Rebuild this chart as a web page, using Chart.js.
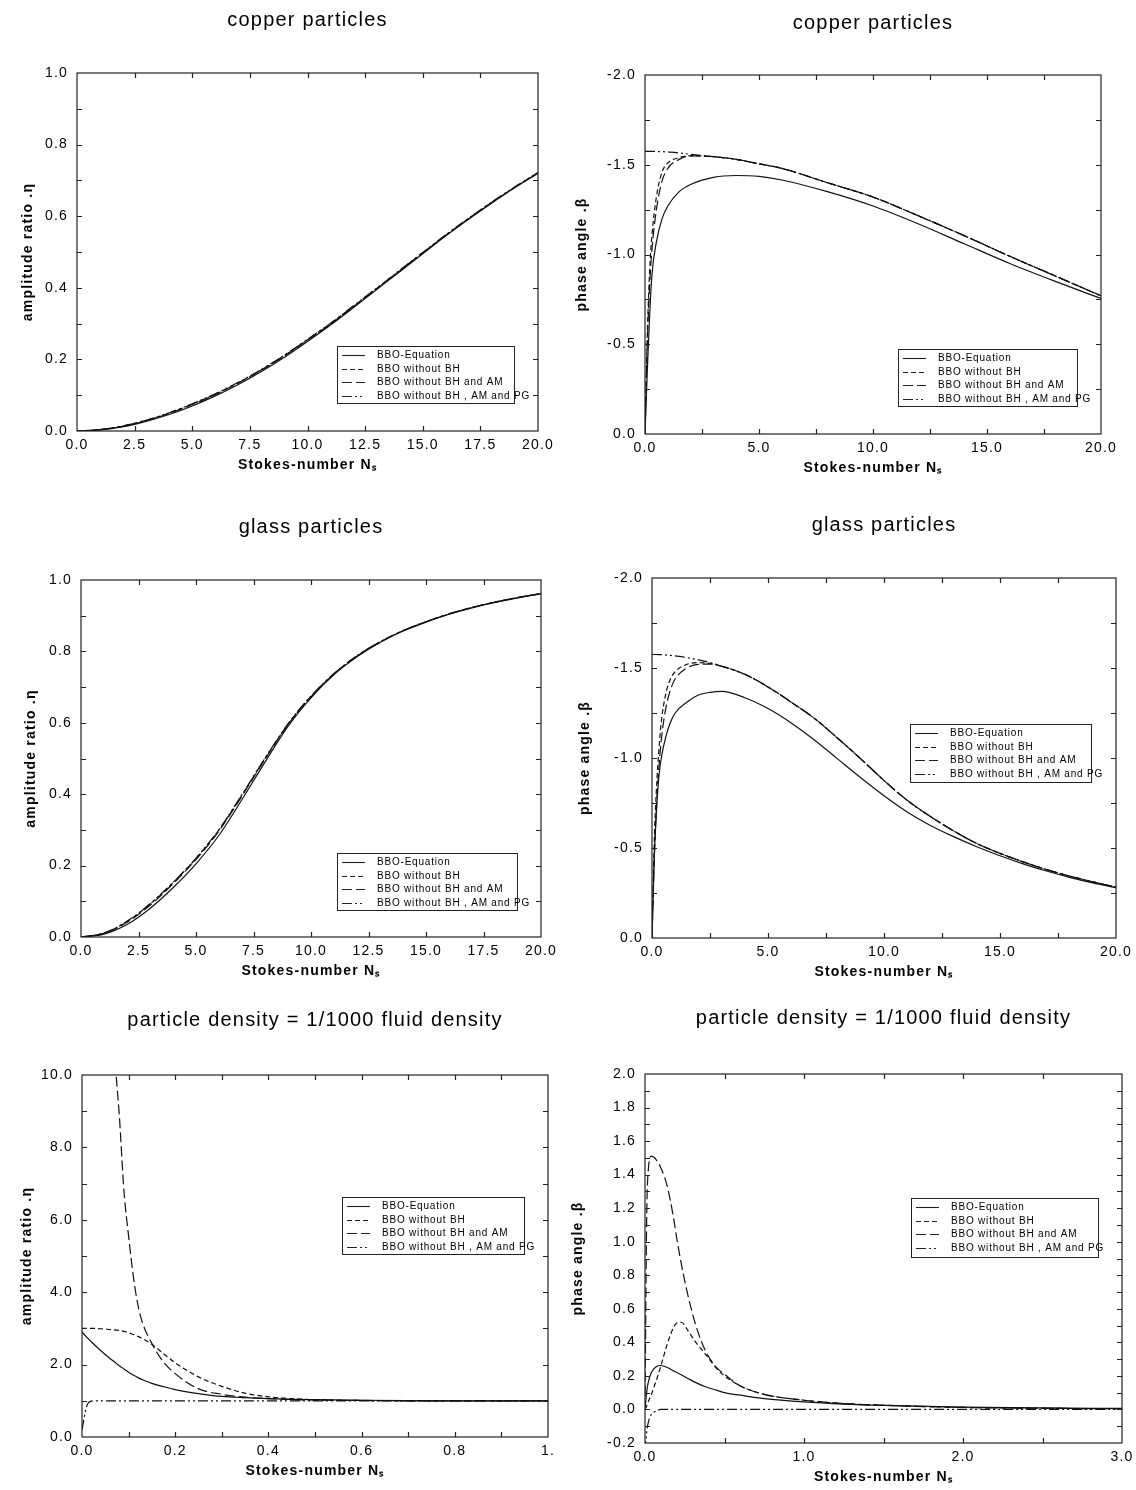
<!DOCTYPE html>
<html>
<head>
<meta charset="utf-8">
<title>BBO response curves</title>
<script src="https://cdn.jsdelivr.net/npm/chart.js@4.4.1/dist/chart.umd.min.js"></script>
<style>
  body { margin: 0; background: #fff; width: 1136px; height: 1490px; position: relative; overflow: hidden; }
  canvas { position: absolute; }
</style>
</head>
<body>
<canvas id="p1"></canvas>
<canvas id="p2"></canvas>
<canvas id="p3"></canvas>
<canvas id="p4"></canvas>
<canvas id="p5"></canvas>
<canvas id="p6"></canvas>
<script>
// legend labels (same for all six plots)
const seriesLabels = ['BBO-Equation', 'BBO without BH', 'BBO without BH and AM', 'BBO without BH , AM and PG'];

// copper particles - amplitude ratio
const cuAmpX    = [0, 1, 2, 3, 4, 5, 6, 7, 8, 9, 10, 11, 12, 13, 14, 15, 16, 17, 18, 19, 20];
const cuAmpBBO  = [0, 0.003, 0.012, 0.027, 0.046, 0.070, 0.098, 0.130, 0.166, 0.206, 0.250, 0.296, 0.345, 0.395, 0.445, 0.495, 0.545, 0.592, 0.637, 0.680, 0.720];
const cuAmpNoBH = [0, 0.004, 0.014, 0.030, 0.050, 0.075, 0.103, 0.135, 0.171, 0.211, 0.255, 0.300, 0.349, 0.398, 0.448, 0.498, 0.547, 0.594, 0.639, 0.681, 0.721];
const cuAmpNoAM = [0, 0.004, 0.013, 0.029, 0.049, 0.074, 0.102, 0.134, 0.170, 0.210, 0.254, 0.299, 0.348, 0.397, 0.447, 0.497, 0.546, 0.593, 0.638, 0.681, 0.721];
const cuAmpNoPG = [0, 0.004, 0.014, 0.030, 0.051, 0.076, 0.104, 0.136, 0.172, 0.212, 0.256, 0.301, 0.350, 0.399, 0.449, 0.499, 0.548, 0.595, 0.640, 0.682, 0.722];

// copper particles - phase angle
const cuPhX    = [0, 0.1, 0.2, 0.3, 0.5, 0.75, 1, 1.5, 2, 3, 4, 5, 6, 8, 10, 12, 14, 16, 18, 20];
const cuPhBBO  = [0, -0.35, -0.65, -0.88, -1.07, -1.20, -1.27, -1.35, -1.39, -1.43, -1.44, -1.435, -1.415, -1.35, -1.27, -1.17, -1.06, -0.95, -0.85, -0.755];
const cuPhNoBH = [0, -0.55, -0.90, -1.10, -1.32, -1.46, -1.51, -1.54, -1.55, -1.545, -1.53, -1.505, -1.48, -1.40, -1.32, -1.215, -1.105, -0.99, -0.88, -0.77];
const cuPhNoAM = [0, -0.50, -0.82, -1.02, -1.25, -1.41, -1.48, -1.53, -1.55, -1.545, -1.53, -1.505, -1.48, -1.40, -1.32, -1.215, -1.105, -0.99, -0.88, -0.77];
const cuPhNoPG = [-1.575, -1.575, -1.575, -1.575, -1.574, -1.573, -1.571, -1.566, -1.558, -1.545, -1.53, -1.505, -1.48, -1.40, -1.32, -1.215, -1.105, -0.99, -0.88, -0.77];

// glass particles - amplitude ratio
const glAmpX    = [0, 1, 2, 3, 4, 5, 6, 7, 8, 9, 10, 11, 12, 13, 14, 15, 16, 17, 18, 19, 20];
const glAmpBBO  = [0, 0.008, 0.035, 0.080, 0.138, 0.205, 0.285, 0.385, 0.490, 0.590, 0.670, 0.735, 0.785, 0.825, 0.857, 0.882, 0.904, 0.922, 0.937, 0.950, 0.961];
const glAmpNoBH = [0, 0.011, 0.043, 0.092, 0.152, 0.220, 0.300, 0.398, 0.500, 0.596, 0.674, 0.737, 0.787, 0.826, 0.858, 0.883, 0.905, 0.923, 0.938, 0.951, 0.962];
const glAmpNoAM = [0, 0.010, 0.041, 0.089, 0.149, 0.217, 0.297, 0.395, 0.498, 0.595, 0.673, 0.737, 0.787, 0.826, 0.858, 0.883, 0.905, 0.923, 0.938, 0.951, 0.962];
const glAmpNoPG = [0, 0.011, 0.044, 0.093, 0.153, 0.221, 0.301, 0.399, 0.501, 0.597, 0.675, 0.738, 0.788, 0.827, 0.858, 0.883, 0.905, 0.923, 0.938, 0.951, 0.962];

// glass particles - phase angle
const glPhX    = [0, 0.1, 0.2, 0.3, 0.4, 0.6, 0.8, 1, 1.5, 2, 2.5, 3, 4, 5, 6, 7, 8, 9, 10, 11, 12, 13, 14, 15, 16, 17, 18, 19, 20];
const glPhBBO  = [0, -0.45, -0.72, -0.90, -1.00, -1.12, -1.20, -1.25, -1.31, -1.35, -1.365, -1.37, -1.335, -1.275, -1.195, -1.10, -0.995, -0.89, -0.79, -0.70, -0.625, -0.563, -0.507, -0.457, -0.412, -0.372, -0.337, -0.306, -0.28];
const glPhNoBH = [0, -0.55, -0.85, -1.05, -1.20, -1.36, -1.44, -1.48, -1.52, -1.53, -1.525, -1.51, -1.465, -1.395, -1.31, -1.22, -1.11, -0.995, -0.875, -0.765, -0.675, -0.595, -0.525, -0.47, -0.423, -0.38, -0.344, -0.312, -0.283];
const glPhNoAM = [0, -0.45, -0.75, -0.95, -1.10, -1.28, -1.38, -1.44, -1.50, -1.52, -1.522, -1.51, -1.465, -1.395, -1.31, -1.22, -1.11, -0.995, -0.875, -0.765, -0.675, -0.595, -0.525, -0.47, -0.423, -0.38, -0.344, -0.312, -0.283];
const glPhNoPG = [-1.575, -1.575, -1.575, -1.574, -1.574, -1.572, -1.57, -1.567, -1.558, -1.545, -1.53, -1.51, -1.465, -1.395, -1.31, -1.22, -1.11, -0.995, -0.875, -0.765, -0.675, -0.595, -0.525, -0.47, -0.423, -0.38, -0.344, -0.312, -0.283];

// particle density = 1/1000 fluid density - amplitude ratio
const lowAmpX    = [0, 0.01, 0.02, 0.04, 0.06, 0.065, 0.075, 0.08, 0.09, 0.1, 0.11, 0.12, 0.13, 0.15, 0.175, 0.2, 0.25, 0.3, 0.35, 0.4, 0.45, 0.5, 0.6, 0.7, 0.8, 0.9, 1.0];
const lowAmpBBO  = [2.9, 2.76, 2.63, 2.39, 2.17, 2.12, 2.02, 1.97, 1.88, 1.79, 1.71, 1.64, 1.58, 1.48, 1.39, 1.31, 1.2, 1.12, 1.085, 1.06, 1.04, 1.03, 1.015, 1.005, 1.0, 1.0, 1.0];
const lowAmpNoBH = [3.0, 3.0, 3.0, 2.99, 2.97, 2.965, 2.95, 2.94, 2.92, 2.88, 2.83, 2.78, 2.72, 2.56, 2.3, 2.05, 1.66, 1.4, 1.21, 1.11, 1.06, 1.03, 1.01, 1.0, 1.0, 1.0, 1.0];
const lowAmpNoAM = [null, null, null, null, null, 11.5, 9.7, 8.9, 6.8, 5.55, 4.45, 3.65, 3.15, 2.58, 2.07, 1.75, 1.33, 1.18, 1.1, 1.06, 1.035, 1.02, 1.01, 1.0, 1.0, 1.0, 1.0];
const lowAmpNoPG = [0.2, 0.85, 0.99, 1.0, 1.0, 1.0, 1.0, 1.0, 1.0, 1.0, 1.0, 1.0, 1.0, 1.0, 1.0, 1.0, 1.0, 1.0, 1.0, 1.0, 1.0, 1.0, 1.0, 1.0, 1.0, 1.0, 1.0];

// particle density = 1/1000 fluid density - phase angle
const lowPhX    = [0, 0.01, 0.02, 0.04, 0.07, 0.1, 0.14, 0.18, 0.2, 0.23, 0.27, 0.32, 0.38, 0.45, 0.5, 0.6, 0.75, 1.0, 1.25, 1.5, 2.0, 2.5, 3.0];
const lowPhBBO  = [0, 0.1, 0.16, 0.22, 0.255, 0.262, 0.25, 0.23, 0.22, 0.205, 0.185, 0.16, 0.135, 0.115, 0.1, 0.085, 0.065, 0.045, 0.032, 0.024, 0.014, 0.009, 0.006];
const lowPhNoBH = [0, 0.02, 0.045, 0.09, 0.17, 0.26, 0.39, 0.49, 0.515, 0.52, 0.47, 0.4, 0.33, 0.245, 0.2, 0.14, 0.09, 0.055, 0.035, 0.025, 0.012, 0.007, 0.004];
const lowPhNoAM = [0, 1.1, 1.42, 1.51, 1.49, 1.44, 1.33, 1.14, 1.02, 0.86, 0.68, 0.5, 0.35, 0.25, 0.21, 0.14, 0.09, 0.055, 0.035, 0.025, 0.012, 0.007, 0.004];
const lowPhNoPG = [-0.25, -0.14, -0.08, -0.03, -0.01, 0, 0, 0, 0, 0, 0, 0, 0, 0, 0, 0, 0, 0, 0, 0, 0, 0, 0];

// line styles: solid, short dash, long dash, dash-dot-dot
const seriesDash = [[], [5, 3], [10, 4], [10, 3, 2, 3, 2, 3]];

Chart.defaults.font.family = '"Liberation Sans", Arial, Helvetica, sans-serif';
Chart.defaults.color = '#000';

const fmt1 = v => (Math.abs(v) < 1e-9 ? 0 : v).toFixed(1);

// panel layout: plot box [left, top, right, bottom] in page px
const panels = [
  { id: 'p1', title: 'copper particles', box: [77, 73, 538, 431], titleOff: 53, yGap: 49,
    x: [0, 20, 2.5, 2.5], y: [0, 1, 0.2, 0.1], reverse: false, yTitle: 'amplitude ratio .η',
    legend: [260, 273, 177, 57], xs: cuAmpX, ys: [cuAmpBBO, cuAmpNoBH, cuAmpNoAM, cuAmpNoPG] },
  { id: 'p2', title: 'copper particles', box: [645, 75, 1101, 434], titleOff: 52, yGap: 63,
    x: [0, 20, 5, 2.5], y: [-2, 0, 0.5, 0.25], reverse: true, yTitle: 'phase angle .β',
    legend: [253, 274, 179, 57], xs: cuPhX, ys: [cuPhBBO, cuPhNoBH, cuPhNoAM, cuPhNoPG] },
  { id: 'p3', title: 'glass particles', box: [81, 580, 541, 937], titleOff: 53, yGap: 50,
    x: [0, 20, 2.5, 2.5], y: [0, 1, 0.2, 0.1], reverse: false, yTitle: 'amplitude ratio .η',
    legend: [256, 273, 180, 57], xs: glAmpX, ys: [glAmpBBO, glAmpNoBH, glAmpNoAM, glAmpNoPG] },
  { id: 'p4', title: 'glass particles', box: [652, 578, 1116, 938], titleOff: 53, yGap: 67,
    x: [0, 20, 5, 2.5], y: [-2, 0, 0.5, 0.25], reverse: true, yTitle: 'phase angle .β',
    legend: [258, 146, 181, 58], xs: glPhX, ys: [glPhBBO, glPhNoBH, glPhNoAM, glPhNoPG] },
  { id: 'p5', title: 'particle density = 1/1000 fluid density', box: [82, 1075, 548, 1437], titleOff: 55, yGap: 55,
    x: [0, 1, 0.2, 0.1], y: [0, 10, 2, 1], reverse: false, yTitle: 'amplitude ratio .η', xLast: '1.',
    legend: [260, 122, 182, 57], xs: lowAmpX, ys: [lowAmpBBO, lowAmpNoBH, lowAmpNoAM, lowAmpNoPG] },
  { id: 'p6', title: 'particle density = 1/1000 fluid density', box: [645, 1074, 1122, 1443], titleOff: 56, yGap: 67,
    x: [0, 3, 1, 0.5], y: [-0.2, 2, 0.2, 0.1], reverse: false, yTitle: 'phase angle .β',
    legend: [266, 124, 187, 59], xs: lowPhX, ys: [lowPhBBO, lowPhNoBH, lowPhNoAM, lowPhNoPG] }
];

// wider glyph spacing like the old postscript output
const spacingPlugin = {
  id: 'spacing',
  beforeDraw(chart) { chart.ctx.letterSpacing = '1.2px'; },
  beforeDatasetsDraw(chart) { chart.ctx.letterSpacing = '0px'; }
};

// box around the plot with inward tick marks on all four sides
const framePlugin = {
  id: 'frame',
  afterDatasetsDraw(chart, args, opts) {
    const { ctx, chartArea: a, scales: { x, y } } = chart;
    const tl = 5;
    ctx.save();
    ctx.strokeStyle = '#222';
    ctx.lineWidth = 1.2;
    ctx.setLineDash([]);
    ctx.strokeRect(a.left, a.top, a.right - a.left, a.bottom - a.top);
    ctx.beginPath();
    let n = Math.round((x.max - x.min) / opts.xStep);
    for (let i = 1; i < n; i++) {
      const px = Math.round(x.getPixelForValue(x.min + i * opts.xStep)) + 0.5;
      ctx.moveTo(px, a.bottom); ctx.lineTo(px, a.bottom - tl);
      ctx.moveTo(px, a.top); ctx.lineTo(px, a.top + tl);
    }
    n = Math.round((y.max - y.min) / opts.yStep);
    for (let i = 1; i < n; i++) {
      const py = Math.round(y.getPixelForValue(y.min + i * opts.yStep)) + 0.5;
      ctx.moveTo(a.left, py); ctx.lineTo(a.left + tl, py);
      ctx.moveTo(a.right, py); ctx.lineTo(a.right - tl, py);
    }
    ctx.stroke();
    ctx.restore();
  }
};

// legend box placed inside the plot area
const boxLegendPlugin = {
  id: 'boxLegend',
  afterDraw(chart, args, opts) {
    const { ctx, chartArea: a } = chart;
    const left = a.left + opts.dx, top = a.top + opts.dy;
    ctx.save();
    ctx.fillStyle = '#fff';
    ctx.fillRect(left, top, opts.w, opts.h);
    ctx.strokeStyle = '#222';
    ctx.lineWidth = 1;
    ctx.setLineDash([]);
    ctx.strokeRect(left + 0.5, top + 0.5, opts.w, opts.h);
    ctx.font = '10px "Liberation Sans", Arial, sans-serif';
    ctx.letterSpacing = '0.8px';
    ctx.textBaseline = 'middle';
    ctx.fillStyle = '#000';
    chart.data.datasets.forEach((ds, i) => {
      const yy = Math.round(top + 9 + i * 13.5) + 0.5;
      ctx.beginPath();
      ctx.setLineDash(ds.borderDash);
      ctx.lineWidth = 1.1;
      ctx.moveTo(left + 5, yy);
      ctx.lineTo(left + 28, yy);
      ctx.stroke();
      ctx.fillText(ds.label, left + 40, yy);
    });
    ctx.restore();
  }
};

function makeChart(p) {
  const [L, T, R, B] = p.box;
  const cv = document.getElementById(p.id);
  const w = R - L + 150, h = B - T + 135;
  cv.width = w; cv.height = h;
  cv.style.left = (L - 75) + 'px';
  cv.style.top = (T - 75) + 'px';
  cv.style.width = w + 'px';
  cv.style.height = h + 'px';

  const datasets = p.ys.map((ys, i) => ({
    label: seriesLabels[i],
    data: p.xs.map((x, j) => ({ x: x, y: ys[j] })),
    borderColor: '#111',
    borderWidth: 1.2,
    borderDash: seriesDash[i],
    pointRadius: 0,
    fill: false,
    cubicInterpolationMode: 'monotone',
    spanGaps: false
  }));

  const titleTop = 75 - p.titleOff - 12;

  return new Chart(cv, {
    type: 'line',
    data: { datasets },
    options: {
      responsive: false,
      animation: false,
      events: [],
      layout: { padding: 0 },
      plugins: {
        legend: { display: false },
        tooltip: { enabled: false },
        title: {
          display: true, text: p.title, color: '#000',
          font: { size: 20, weight: 'normal', lineHeight: 1.2 },
          padding: { top: titleTop, bottom: 51 - titleTop }
        },
        frame: { xStep: p.x[3], yStep: p.y[3] },
        boxLegend: { dx: p.legend[0], dy: p.legend[1], w: p.legend[2], h: p.legend[3] }
      },
      scales: {
        x: {
          type: 'linear', min: p.x[0], max: p.x[1],
          afterFit: s => { s.height = 60; },
          grid: { display: false, drawTicks: false },
          border: { display: false },
          ticks: {
            stepSize: p.x[2], autoSkip: false, maxRotation: 0, padding: 6,
            color: '#000', font: { size: 14 },
            callback: v => (p.xLast && Math.abs(v - p.x[1]) < 1e-9) ? p.xLast : fmt1(v)
          },
          title: {
            display: true, text: 'Stokes-number Nₛ', color: '#000',
            font: { size: 14, weight: 'bold', lineHeight: 1.2 },
            padding: { top: 0, bottom: 17.6 }
          }
        },
        y: {
          type: 'linear', position: 'left', min: p.y[0], max: p.y[1], reverse: p.reverse,
          afterFit: s => { s.width = 75; },
          grid: { display: false, drawTicks: false },
          border: { display: false },
          ticks: { stepSize: p.y[2], autoSkip: false, padding: 9, color: '#000', font: { size: 14 }, callback: v => fmt1(v) },
          title: {
            display: true, text: p.yTitle, color: '#000',
            font: { size: 14, weight: 'bold', lineHeight: 1.2 },
            padding: { top: 75 - p.yGap - 8.4, bottom: 0 }
          }
        },
        y2: {
          type: 'linear', position: 'right', display: true,
          afterFit: s => { s.width = 75; },
          grid: { display: false, drawTicks: false },
          border: { display: false },
          ticks: { display: false }
        }
      }
    },
    plugins: [spacingPlugin, framePlugin, boxLegendPlugin]
  });
}

panels.forEach(makeChart);
</script>
</body>
</html>
